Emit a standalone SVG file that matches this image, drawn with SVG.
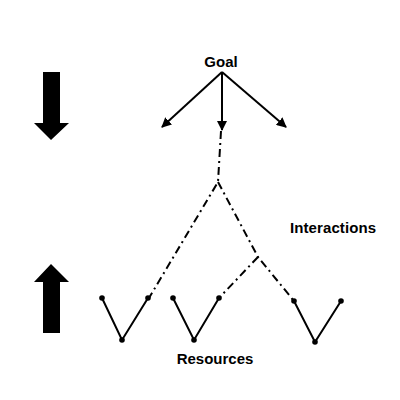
<svg xmlns="http://www.w3.org/2000/svg" width="400" height="400" viewBox="0 0 400 400">
<style>
.lbl{font-family:"Liberation Sans",Arial,sans-serif;font-weight:bold;font-size:15px;fill:#000}
.solid{stroke:#000;stroke-width:2;fill:none}
.dd{stroke:#000;stroke-width:2;fill:none;stroke-dasharray:8 4 2 4}
.dot{fill:#000}
</style>
<defs>
<marker id="ah" markerWidth="10" markerHeight="10" refX="9" refY="5" orient="auto" markerUnits="userSpaceOnUse">
<path d="M0,0 L10,5 L0,10 Z" fill="#000"/>
</marker>
</defs>
<rect width="400" height="400" fill="#fff"/>
<g id="big-arrows">
<polygon points="43,72 60,72 60,123 69,123 51,140 34,123 43,123" fill="#000"/>
<polygon points="43,333 60,333 60,282 69,282 51,264 34,282 43,282" fill="#000"/>
</g>
<g id="connectors">
<line class="solid" x1="222" y1="72" x2="162" y2="127" marker-end="url(#ah)"/>
<line class="solid" x1="222" y1="72" x2="222" y2="130" marker-end="url(#ah)"/>
<line class="solid" x1="222" y1="72" x2="286" y2="127" marker-end="url(#ah)"/>
<polyline class="dd" points="221,131 218,182 149,298"/>
<polyline class="dd" points="218,182 258,257 294,301"/>
<line class="dd" x1="258" y1="257" x2="219" y2="298"/>
</g>
<g id="goal"><text class="lbl" x="221" y="67" text-anchor="middle">Goal</text></g>
<g id="interactions"><text class="lbl" x="290" y="233" textLength="86">Interactions</text></g>
<g id="resources"><text class="lbl" x="215" y="364" text-anchor="middle">Resources</text></g>
<g id="v1">
<polyline class="solid" points="102,298 122,340 148,298"/>
<circle class="dot" cx="102" cy="298" r="2.8"/><circle class="dot" cx="122" cy="340" r="2.8"/><circle class="dot" cx="148" cy="298" r="2.8"/>
</g>
<g id="v2">
<polyline class="solid" points="173,298 194,340 219,298"/>
<circle class="dot" cx="173" cy="298" r="2.8"/><circle class="dot" cx="194" cy="340" r="2.8"/><circle class="dot" cx="219" cy="298" r="2.8"/>
</g>
<g id="v3">
<polyline class="solid" points="294,301 315,342 341,301"/>
<circle class="dot" cx="294" cy="301" r="2.8"/><circle class="dot" cx="315" cy="342" r="2.8"/><circle class="dot" cx="341" cy="301" r="2.8"/>
</g>
</svg>
